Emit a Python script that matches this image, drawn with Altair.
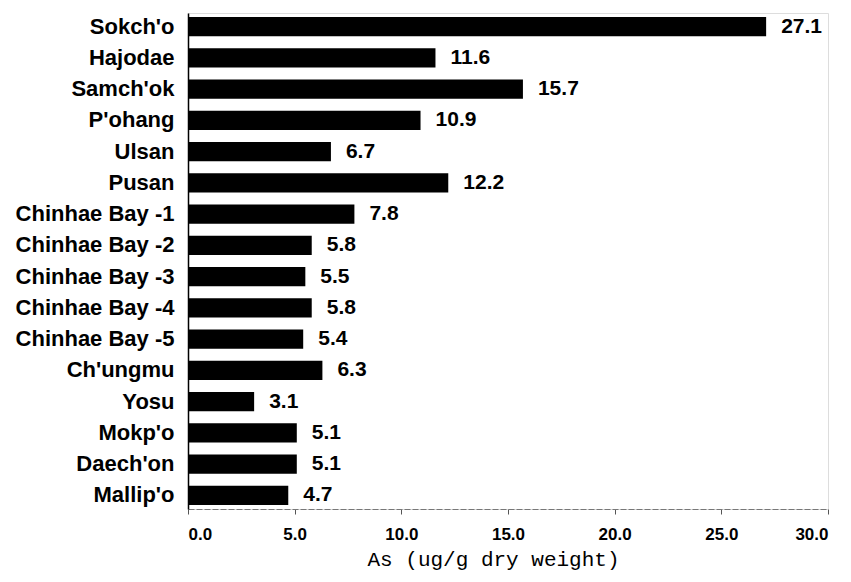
import altair as alt
import pandas as pd

sites = ["Sokch'o", "Hajodae", "Samch'ok", "P'ohang", "Ulsan", "Pusan",
         "Chinhae Bay -1", "Chinhae Bay -2", "Chinhae Bay -3", "Chinhae Bay -4",
         "Chinhae Bay -5", "Ch'ungmu", "Yosu", "Mokp'o", "Daech'on", "Mallip'o"]
values = [27.1, 11.6, 15.7, 10.9, 6.7, 12.2, 7.8, 5.8, 5.5, 5.8, 5.4, 6.3, 3.1, 5.1, 5.1, 4.7]
x_ticks = [0, 5, 10, 15, 20, 25, 30]

df = pd.DataFrame({"site": sites, "value": values})
df["label"] = df["value"].map(lambda v: f"{v:.1f}")

y_enc = alt.Y("site:N", sort=sites,
              scale=alt.Scale(paddingInner=0.39, paddingOuter=0.13),
              axis=alt.Axis(title=None, ticks=False, domainColor="black", domainWidth=1.5,
                            labelFont="Liberation Sans", labelFontSize=22, labelFontWeight="bold",
                            labelColor="black", labelPadding=14))

x_enc = alt.X("value:Q", scale=alt.Scale(domain=[0, 30], nice=False),
              axis=alt.Axis(values=x_ticks, format=".1f", grid=False,
                            title="As (ug/g dry weight)", titleFont="Liberation Mono",
                            titleFontSize=21, titleFontWeight="normal", titleColor="black",
                            titleX=305, titleY=56, titleAlign="center", titleBaseline="alphabetic",
                            labelFont="Liberation Sans", labelFontSize=17, labelFontWeight="bold",
                            labelColor="black", labelPadding=12,
                            tickSize=5, tickColor="#555", domainColor="#777",
                            domainDash=[6, 2]))

bars = alt.Chart(df).mark_bar(color="black").encode(x=x_enc, y=y_enc)
texts = alt.Chart(df).mark_text(align="left", baseline="middle", dx=15,
                                font="Liberation Sans", fontSize=21, fontWeight="bold",
                                color="black").encode(
    x=alt.X("value:Q"), y=alt.Y("site:N", sort=sites), text="label:N")

chart = (bars + texts).properties(
    width=640, height=496,
    autosize=alt.AutoSizeParams(type="none"),
    padding={"left": 180, "top": 5, "right": 15, "bottom": 73},
).configure_view(stroke="#888", strokeWidth=1, strokeDash=[3, 2]).configure(background="white")

chart.save("out.html", embed_options={"renderer": "svg", "actions": False})
